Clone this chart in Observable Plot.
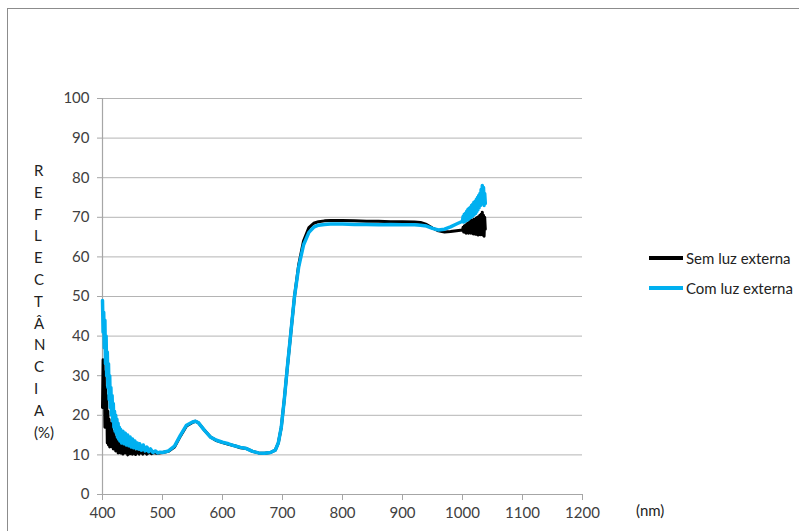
<!DOCTYPE html>
<html>
<head>
<meta charset="utf-8">
<script src="https://cdn.jsdelivr.net/npm/d3@7"></script>
<script src="https://cdn.jsdelivr.net/npm/@observablehq/plot@0.6"></script>
<style>
  body { margin: 0; background: #fff; overflow: hidden; }
  #wrap { position: relative; width: 799px; height: 531px; font-family: Lato, "Open Sans", sans-serif; }
  #wrap svg { position: absolute; left: 0; top: 0; }
  .border { position: absolute; left: 7px; top: 8px; width: 820px; height: 560px; border-left: 1.5px solid #8c8c8c; border-top: 1.5px solid #8c8c8c; pointer-events: none; }
  .ylab { position: absolute; left: 34px; font-size: 15px; color: #222; line-height: 1; transform: translateY(-50%); }
  .leg { position: absolute; left: 649px; width: 34px; height: 3.5px; }
  .legt { position: absolute; left: 686px; font-size: 15px; color: #222; line-height: 1; transform: translateY(-50%); white-space: nowrap; }
  .nm { position: absolute; left: 636px; top: 510px; font-size: 15px; color: #222; line-height: 1; transform: translateY(-50%); }
</style>
</head>
<body>
<div id="wrap"></div>
<script>
// ---- data ----
const xTicks = [400, 500, 600, 700, 800, 900, 1000, 1100, 1200];
const yTicks = [0, 10, 20, 30, 40, 50, 60, 70, 80, 90, 100];
const seriesNames = ["Sem luz externa", "Com luz externa"];
const seriesColors = ["#000000", "#00b0f0"];
const yLabelLetters = ["R", "E", "F", "L", "E", "C", "T", "Â", "N", "C", "I", "A", "(%)"];
const xUnit = "(nm)";

// Sem luz externa (black)
const semNm = [400, 401, 402, 403, 404, 405, 406, 407, 408, 409, 410, 411, 412, 413, 414, 415, 416, 417, 418, 419,
  420, 421, 422, 423, 424, 425, 426, 427, 428, 429, 430, 432, 434, 436, 438, 440, 442, 444, 446, 448,
  450, 452, 455, 458, 461, 464, 467, 470, 474, 478, 482, 486, 490, 495,
  500, 510, 520, 530, 540, 550, 555, 560, 570, 580, 590, 600, 610, 620, 630, 640, 650, 660, 670, 680,
  688, 693, 698, 703, 708, 714, 720, 727, 735, 744, 752, 760, 770, 780, 800, 820, 840, 860, 880, 900,
  920, 930, 940, 950, 960, 970, 980, 990,
  1000, 1001, 1002, 1003, 1004, 1005, 1006, 1007, 1008, 1009, 1010, 1011, 1012, 1013, 1014, 1015, 1016, 1017, 1018, 1019,
  1020, 1021, 1022, 1023, 1024, 1025, 1026, 1027, 1028, 1029, 1030, 1031, 1032, 1033, 1034, 1035, 1036, 1037, 1038];
const semVal = [22, 34, 24, 31, 17, 27, 18, 25, 13, 21, 12.5, 19, 12, 17, 12.5, 18, 12, 16, 11.5, 15.5,
  12, 14.5, 11, 14, 11.5, 13.5, 10.5, 13, 11, 13.5, 10.5, 12.5, 10.2, 12.8, 10.5, 12, 10, 12, 10.3, 11.5,
  10.2, 11.3, 10.1, 11, 10.2, 11, 10.2, 10.8, 10.2, 10.7, 10.3, 10.6, 10.4, 10.5,
  10.6, 10.9, 12, 14.8, 17.3, 18.2, 18.5, 18.1, 16.2, 14.5, 13.6, 13.1, 12.7, 12.3, 11.8, 11.6, 10.9, 10.5, 10.4, 10.6,
  11.2, 13, 17, 24, 32, 41, 50, 58, 64, 67.4, 68.5, 68.9, 69.1, 69.2, 69.2, 69.1, 69.0, 69.0, 68.9, 68.9,
  68.8, 68.7, 68.2, 67.3, 66.6, 66.3, 66.4, 66.6,
  66.8, 67.5, 66.3, 67.8, 66.2, 68, 66, 68.3, 66.2, 68.5, 66, 68.8, 66.3, 69, 66, 69.3, 66.2, 69, 65.8, 69.5,
  66, 69.3, 65.7, 69.8, 66, 70, 65.5, 70.2, 66, 70.5, 65.6, 70.8, 66, 71.3, 65.5, 70.5, 65.2, 70, 67];

// Com luz externa (blue)
const comNm = [400, 401, 402, 403, 404, 405, 406, 407, 408, 409, 410, 411, 412, 413, 414, 415, 416, 417, 418, 419,
  420, 421, 422, 423, 424, 425, 426, 427, 428, 429, 430, 432, 434, 436, 438, 440, 442, 444, 446, 448,
  450, 452, 454, 456, 458, 460, 462, 465, 468, 471, 474, 477, 480, 484, 488, 492, 496,
  500, 510, 520, 530, 540, 550, 555, 560, 570, 580, 590, 600, 610, 620, 630, 640, 650, 660, 670, 680,
  688, 693, 698, 703, 708, 714, 720, 727, 735, 744, 752, 760, 770, 780, 800, 820, 840, 860, 880, 900,
  920, 930, 940, 950, 960, 970, 980, 990,
  1000, 1001, 1002, 1003, 1004, 1005, 1006, 1007, 1008, 1009, 1010, 1011, 1012, 1013, 1014, 1015, 1016, 1017, 1018, 1019,
  1020, 1021, 1022, 1023, 1024, 1025, 1026, 1027, 1028, 1029, 1030, 1031, 1032, 1033, 1034, 1035, 1036, 1037, 1038];
const comVal = [49, 41, 46, 37, 44, 33, 40, 30, 36, 27, 33, 24, 30, 22, 27, 20, 25, 18.5, 23, 17,
  21, 16, 20, 15.5, 19, 14.5, 18, 14, 17, 13.5, 16.5, 13, 16, 12.8, 15.5, 12.5, 15, 12.3, 14.5, 12,
  14, 11.8, 13.5, 11.6, 13, 11.5, 12.8, 11.2, 12.5, 11, 12, 10.8, 11.5, 10.6, 11, 10.5, 10.7,
  10.6, 11, 12.2, 15, 17.5, 18.3, 18.5, 18.1, 16.2, 14.5, 13.7, 13.2, 12.8, 12.3, 11.9, 11.6, 10.9, 10.5, 10.4, 10.6,
  11.2, 13, 17, 24, 32, 41, 50, 57.5, 63, 66.2, 67.5, 68, 68.2, 68.3, 68.3, 68.2, 68.2, 68.1, 68.2, 68.1,
  68.1, 68, 67.8, 67.2, 66.8, 67, 67.6, 68.3,
  69, 70.2, 68.8, 70.8, 69, 71, 69.2, 71.5, 69.3, 72, 69.5, 72.3, 69.8, 72.5, 70, 73, 70.2, 73.3, 70.5, 73.8,
  70.8, 74, 71, 74.5, 71.5, 75, 72, 75.5, 72.5, 76, 73, 77, 73.5, 78, 74, 77.5, 73, 76, 73.5];

// ---- build ----
const sem = semNm.map((x, i) => ({x, y: semVal[i]}));
const com = comNm.map((x, i) => ({x, y: comVal[i]}));

const chart = Plot.plot({
  width: 799,
  height: 531,
  marginLeft: 102,
  marginRight: 217,
  marginTop: 98,
  marginBottom: 37,
  x: {domain: [400, 1200]},
  y: {domain: [0, 100]},
  style: {fontFamily: "Lato, 'Open Sans', sans-serif", fontSize: "15px", color: "#404040", background: "white"},
  marks: [
    Plot.gridY(yTicks, {stroke: "#b4b4b4", strokeOpacity: 1, strokeWidth: 1}),
    Plot.ruleY([0], {stroke: "#a6a6a6", strokeWidth: 1.2}),
    Plot.ruleX([400], {stroke: "#a6a6a6", strokeWidth: 1.2}),
    Plot.axisX(xTicks, {tickSize: 6, tickPadding: 7, stroke: "#a6a6a6", fill: "#404040", tickFormat: d => String(d), label: null}),
    Plot.axisY(yTicks, {tickSize: 5, tickPadding: 8, stroke: "#a6a6a6", fill: "#404040", tickFormat: d => String(d), label: null}),
    Plot.line(sem, {x: "x", y: "y", stroke: seriesColors[0], strokeWidth: 3}),
    Plot.line(com, {x: "x", y: "y", stroke: seriesColors[1], strokeWidth: 3.5})
  ]
});

const wrap = document.getElementById("wrap");
wrap.appendChild(chart);

const border = document.createElement("div");
border.className = "border";
wrap.appendChild(border);

yLabelLetters.forEach((t, i) => {
  const d = document.createElement("div");
  d.className = "ylab";
  d.style.top = (170 + i * 21.8) + "px";
  d.textContent = t;
  wrap.appendChild(d);
});

seriesNames.forEach((name, i) => {
  const yc = 258 + i * 30;
  const l = document.createElement("div");
  l.className = "leg";
  l.style.top = (yc - 1.75) + "px";
  l.style.background = seriesColors[i];
  wrap.appendChild(l);
  const t = document.createElement("div");
  t.className = "legt";
  t.style.top = yc + "px";
  t.textContent = name;
  wrap.appendChild(t);
});

const nm = document.createElement("div");
nm.className = "nm";
nm.textContent = xUnit;
wrap.appendChild(nm);
</script>
</body>
</html>
